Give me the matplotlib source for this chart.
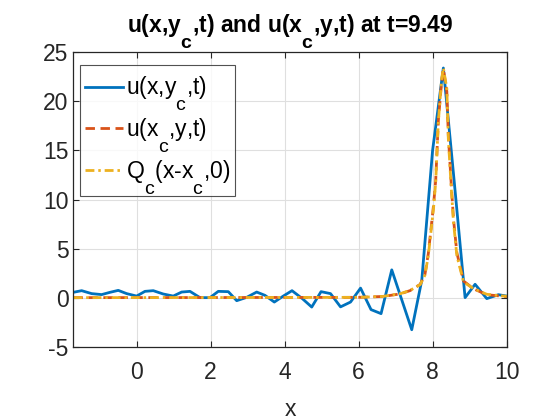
import matplotlib
matplotlib.use("Agg")
import matplotlib.pyplot as plt
import matplotlib._mathtext as _mt

# MATLAB-like (large, low) subscripts
_mt.SHRINK_FACTOR = 0.85
_mt.FontConstantsBase.sub1 = 1.25

plt.rcParams['font.family'] = ['Liberation Sans', 'DejaVu Sans']
plt.rcParams['mathtext.fontset'] = 'custom'
plt.rcParams['mathtext.rm'] = 'Liberation Sans'
plt.rcParams['mathtext.it'] = 'Liberation Sans'
plt.rcParams['mathtext.bf'] = 'Liberation Sans:bold'
plt.rcParams['axes.unicode_minus'] = False

# ---- data ----
x_blue = [-1.714, -1.486, -1.216, -0.946, -0.722, -0.497, -0.270, 0.0, 0.224, 0.449,
          0.719, 0.989, 1.216, 1.441, 1.711, 1.981, 2.205, 2.476, 2.703, 2.973,
          3.243, 3.468, 3.719, 3.962, 4.197, 4.476, 4.730, 4.981, 5.238, 5.508,
          5.778, 6.049, 6.332, 6.603, 6.892, 7.162, 7.432, 7.703, 7.995, 8.286,
          8.576, 8.873, 9.143, 9.459, 9.773, 10.0]
u_blue = [0.54, 0.71, 0.41, 0.31, 0.54, 0.74, 0.41, 0.16, 0.64, 0.71,
          0.37, 0.16, 0.57, 0.64, 0.0, 0.0, 0.64, 0.61, -0.31, 0.03,
          0.57, 0.23, -0.45, 0.16, 0.71, -0.10, -0.96, 0.61, 0.41, -0.94,
          -0.45, 0.97, -1.22, -1.63, 2.83, -0.22, -3.27, 1.77, 15.0, 23.4,
          11.97, 0.0, 1.36, -0.10, 0.30, 0.16]

x_prof = [-1.71, 2.0, 6.0, 6.66, 7.12, 7.39, 7.66, 7.79, 7.88, 8.02, 8.08, 8.15, 8.24,
          8.286, 8.38, 8.42, 8.50, 8.56, 8.65, 8.83, 9.10, 9.46, 10.0]
u_red = [0.0, 0.01, 0.03, 0.12, 0.38, 0.72, 1.35, 2.4, 4.5, 9.4, 12.0, 18.0, 22.0,
         23.3, 21.0, 16.5, 11.5, 8.0, 4.6, 1.7, 0.9, 0.3, 0.1]
q_yel = [0.0, 0.01, 0.03, 0.13, 0.40, 0.74, 1.33, 2.3, 4.3, 9.1, 11.8, 17.9, 22.3,
         23.4, 21.3, 16.2, 11.1, 7.7, 4.3, 1.6, 0.92, 0.34, 0.13]

labels = [r'u(x,y$_{\rm c}$,t)', r'u(x$_{\rm c}$,y,t)', r'Q$_{\rm c}$(x-x$_{\rm c}$,0)']
title = r'u(x,y$_\mathbf{c}$,t) and u(x$_\mathbf{c}$,y,t) at t=9.49'
xticks = [0, 2, 4, 6, 8, 10]
yticks = [-5, 0, 5, 10, 15, 20, 25]

# ---- figure ----
fig = plt.figure(figsize=(5.6, 4.2), dpi=100)
ax = fig.add_axes([0.131, 0.1745, 0.774, 0.701])

c_blue, c_red, c_yel = '#0072BD', '#D95319', '#EDB120'
ax.plot(x_blue, u_blue, color=c_blue, lw=2.0, label=labels[0])
ax.plot(x_prof, u_red, color=c_red, lw=2.0, ls=(0, (3.4, 2.0)), label=labels[1])
ax.plot(x_prof, q_yel, color=c_yel, lw=2.0, ls=(0, (3.2, 1.4, 0.9, 1.4)), label=labels[2])

ax.set_xlim(-1.71, 10)
ax.set_ylim(-5, 25)
ax.set_xticks(xticks)
ax.set_yticks(yticks)
ax.grid(True, color='#dfdfdf', lw=0.8)
ax.set_axisbelow(True)
for s in ax.spines.values():
    s.set_color('#262626')
    s.set_linewidth(0.9)
ax.tick_params(direction='in', length=4, width=0.8, top=True, right=True,
               labelsize=16.5, colors='#262626')
ax.tick_params(axis='x', pad=10.5)
ax.tick_params(axis='y', pad=3.5)

ax.set_title(title, fontsize=16.5, fontweight='bold', color='black', pad=14)
ax.set_xlabel('x', fontsize=16.5, color='#262626', labelpad=10)

leg = ax.legend(loc='upper left', bbox_to_anchor=(0.0155, 0.957), borderaxespad=0,
                fontsize=16.5, frameon=True, fancybox=False, handlelength=1.66,
                handletextpad=0.15, labelspacing=0.16, borderpad=0.2)
leg.get_frame().set_edgecolor('#262626')
leg.get_frame().set_linewidth(0.8)
# nudge entries down inside the box (MATLAB ignores subscript depth when packing)
shift_px = 5.0
for t in leg.get_texts():
    t.set_y(-shift_px)
for h in leg.legend_handles:
    yd = h.get_ydata()
    h.set_ydata([v - shift_px * 72.0 / fig.dpi for v in yd])

fig.savefig('out.png', dpi=100)
